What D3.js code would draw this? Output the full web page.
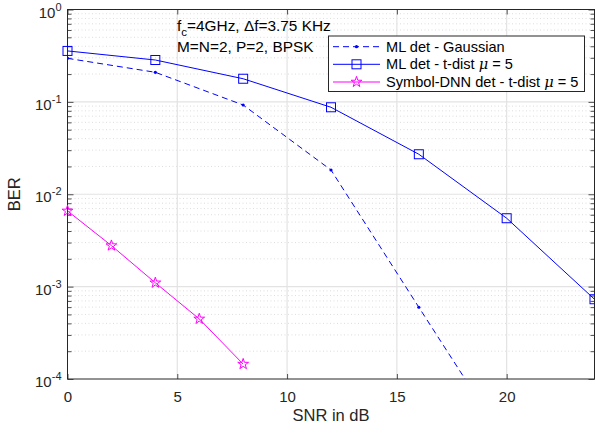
<!DOCTYPE html>
<html>
<head>
<meta charset="utf-8">
<script src="https://cdn.jsdelivr.net/npm/d3@7"></script>
<style>
  body { margin: 0; background: #fff; }
  svg { display: block; font-family: "Liberation Sans", Arial, Helvetica, sans-serif; }
</style>
</head>
<body>
<svg id="chart" width="595" height="433"></svg>
<script>
// SNR points (dB) and BER for each detector
const snrGauss = [0, 4, 8, 12, 16, 20];
const berGauss = [0.296, 0.209, 0.0925, 0.0183, 0.000598, 0.00002];

const snrTdist = [0, 4, 8, 12, 16, 20, 24];
const berTdist = [0.356, 0.284, 0.178, 0.0874, 0.0271, 0.0055, 0.00073];

const snrDnn = [0, 2, 4, 6, 8];
const berDnn = [0.0066, 0.00278, 0.0011, 0.000447, 0.000145];

const xTicks = [0, 5, 10, 15, 20];
const yDecades = [0, -1, -2, -3, -4];
const legendLabels = ["ML det - Gaussian", "ML det - t-dist", "Symbol-DNN det - t-dist"];

const svg = d3.select("#chart");
const m = { left: 67.5, right: 594.5, top: 9.5, bottom: 379 };

const x = d3.scaleLinear().domain([0, 24]).range([m.left, m.right]);
const y = d3.scaleLog().domain([1e-4, 1]).range([m.bottom, m.top]);

const blue = "#0000ff", magenta = "#ff00ff", axisCol = "#262626";

svg.append("defs").append("clipPath").attr("id", "plotClip")
  .append("rect").attr("x", m.left).attr("y", m.top)
  .attr("width", m.right - m.left).attr("height", m.bottom - m.top);

// minor grid (dotted) for log decades
const minorVals = [];
for (let e = -4; e < 0; e++) for (let k = 2; k <= 9; k++) minorVals.push(k * Math.pow(10, e));
const grid = svg.append("g");
grid.selectAll("line.minor").data(minorVals).join("line")
  .attr("x1", m.left).attr("x2", m.right)
  .attr("y1", d => y(d)).attr("y2", d => y(d))
  .attr("stroke", "#d4d4d4").attr("stroke-width", 0.8).attr("stroke-dasharray", "1,2.5");
// major grid
grid.selectAll("line.majy").data(yDecades.slice(1, 4)).join("line")
  .attr("x1", m.left).attr("x2", m.right)
  .attr("y1", d => y(Math.pow(10, d))).attr("y2", d => y(Math.pow(10, d)))
  .attr("stroke", "#e3e3e3").attr("stroke-width", 1.2);
grid.selectAll("line.majx").data(xTicks.slice(1)).join("line")
  .attr("x1", d => x(d)).attr("x2", d => x(d))
  .attr("y1", m.top).attr("y2", m.bottom)
  .attr("stroke", "#e3e3e3").attr("stroke-width", 1.2);

// axes box with inward ticks
const axG = svg.append("g");
const bottomAxis = d3.axisBottom(x).tickValues(xTicks).tickSize(-5).tickPadding(12);
const topAxis = d3.axisTop(x).tickValues(xTicks).tickSize(-5).tickFormat("");
const ax1 = axG.append("g").attr("transform", `translate(0,${m.bottom})`).call(bottomAxis);
const ax2 = axG.append("g").attr("transform", `translate(0,${m.top})`).call(topAxis);
const leftAxis = d3.axisLeft(y).tickValues(minorVals).tickSize(-4).tickFormat("");
const rightAxis = d3.axisRight(y).tickValues(minorVals).tickSize(-4).tickFormat("");
const leftMajor = d3.axisLeft(y).tickValues(yDecades.map(d => Math.pow(10, d))).tickSize(-6).tickFormat("");
const rightMajor = d3.axisRight(y).tickValues(yDecades.map(d => Math.pow(10, d))).tickSize(-6).tickFormat("");
const ax3 = axG.append("g").attr("transform", `translate(${m.left},0)`).call(leftAxis);
const ax3b = axG.append("g").attr("transform", `translate(${m.left},0)`).call(leftMajor);
const ax4 = axG.append("g").attr("transform", `translate(${m.right},0)`).call(rightAxis);
const ax4b = axG.append("g").attr("transform", `translate(${m.right},0)`).call(rightMajor);
[ax1, ax2, ax3, ax3b, ax4, ax4b].forEach(g => {
  g.select(".domain").remove();
  g.selectAll("line").attr("stroke", axisCol).attr("stroke-width", 0.8);
  g.selectAll("text").attr("fill", axisCol).attr("font-size", 15)
    .attr("font-family", "'Liberation Sans', Arial, sans-serif");
});
axG.append("rect").attr("x", m.left).attr("y", m.top)
  .attr("width", m.right - m.left).attr("height", m.bottom - m.top)
  .attr("fill", "none").attr("stroke", axisCol).attr("stroke-width", 1);

// y decade labels 10^k
const yl = svg.append("g").attr("fill", axisCol);
yDecades.forEach(d => {
  const t = yl.append("text").attr("x", m.left - 6).attr("y", y(Math.pow(10, d)) + 8)
    .attr("text-anchor", "end").attr("font-size", 15);
  t.append("tspan").text("10");
  t.append("tspan").attr("dy", -7).attr("font-size", 11).text(String(d));
});

// axis titles
svg.append("text").attr("x", x(12)).attr("y", 421).attr("text-anchor", "middle")
  .attr("font-size", 16.5).attr("fill", axisCol).text("SNR in dB");
svg.append("text").attr("transform", `translate(20,${(m.top + m.bottom) / 2}) rotate(-90)`)
  .attr("text-anchor", "middle").attr("font-size", 16.5).attr("fill", axisCol).text("BER");

// series
const plot = svg.append("g").attr("clip-path", "url(#plotClip)");
const line = d3.line().x(d => x(d[0])).y(d => y(d[1]));
const gaussPts = snrGauss.map((s, i) => [s, berGauss[i]]);
const tPts = snrTdist.map((s, i) => [s, berTdist[i]]);
const dnnPts = snrDnn.map((s, i) => [s, berDnn[i]]);

plot.append("path").datum(gaussPts).attr("d", line).attr("fill", "none")
  .attr("stroke", blue).attr("stroke-width", 1).attr("stroke-dasharray", "6,4");
plot.selectAll("circle.g").data(gaussPts).join("circle")
  .attr("cx", d => x(d[0])).attr("cy", d => y(d[1])).attr("r", 1.6).attr("fill", blue);

plot.append("path").datum(tPts).attr("d", line).attr("fill", "none")
  .attr("stroke", blue).attr("stroke-width", 1);
const sq = 9;
svg.append("g").selectAll("rect").data(tPts).join("rect")
  .attr("x", d => x(d[0]) - sq / 2).attr("y", d => y(d[1]) - sq / 2)
  .attr("width", sq).attr("height", sq).attr("fill", "none")
  .attr("stroke", blue).attr("stroke-width", 1);

plot.append("path").datum(dnnPts).attr("d", line).attr("fill", "none")
  .attr("stroke", magenta).attr("stroke-width", 1);
const star = d3.symbol().type(d3.symbolStar).size(36);
svg.append("g").selectAll("path").data(dnnPts).join("path")
  .attr("d", star).attr("transform", d => `translate(${x(d[0])},${y(d[1])})`)
  .attr("fill", "none").attr("stroke", magenta).attr("stroke-width", 1);

// annotation
const ann = svg.append("g").attr("fill", "#000").attr("font-size", 15.4);
const a1 = ann.append("text").attr("x", 177).attr("y", 31);
a1.append("tspan").text("f");
a1.append("tspan").attr("dy", 5).attr("font-size", 11.5).text("c");
a1.append("tspan").attr("dy", -5).text("=4GHz, \u0394f=3.75 KHz");
ann.append("text").attr("x", 177).attr("y", 51.5).text("M=N=2, P=2, BPSK");

// legend
const lg = svg.append("g");
lg.append("rect").attr("x", 328.5).attr("y", 36).attr("width", 256).attr("height", 55.5)
  .attr("fill", "#fff").attr("stroke", axisCol).attr("stroke-width", 1);
const rows = [46.7, 64.3, 82];
const lx1 = 333, lx2 = 380, lxm = (lx1 + lx2) / 2;
lg.append("line").attr("x1", lx1).attr("x2", lx2).attr("y1", rows[0]).attr("y2", rows[0])
  .attr("stroke", blue).attr("stroke-dasharray", "6,4");
lg.append("circle").attr("cx", lxm).attr("cy", rows[0]).attr("r", 1.6).attr("fill", blue);
lg.append("line").attr("x1", lx1).attr("x2", lx2).attr("y1", rows[1]).attr("y2", rows[1])
  .attr("stroke", blue);
lg.append("rect").attr("x", lxm - sq / 2).attr("y", rows[1] - sq / 2).attr("width", sq).attr("height", sq)
  .attr("fill", "none").attr("stroke", blue);
lg.append("line").attr("x1", lx1).attr("x2", lx2).attr("y1", rows[2]).attr("y2", rows[2])
  .attr("stroke", magenta);
lg.append("path").attr("d", star).attr("transform", `translate(${lxm},${rows[2]})`)
  .attr("fill", "none").attr("stroke", magenta);
legendLabels.forEach((lab, i) => {
  const t = lg.append("text").attr("x", 386).attr("y", rows[i] + 5).attr("font-size", 14.6).attr("fill", "#000");
  t.append("tspan").text(lab);
  if (i > 0) {
    t.append("tspan").text(" ");
    t.append("tspan").attr("font-family", "'DejaVu Serif', serif").attr("font-style", "italic").text("\u03bc");
    t.append("tspan").text(" = 5");
  }
});
</script>
</body>
</html>
